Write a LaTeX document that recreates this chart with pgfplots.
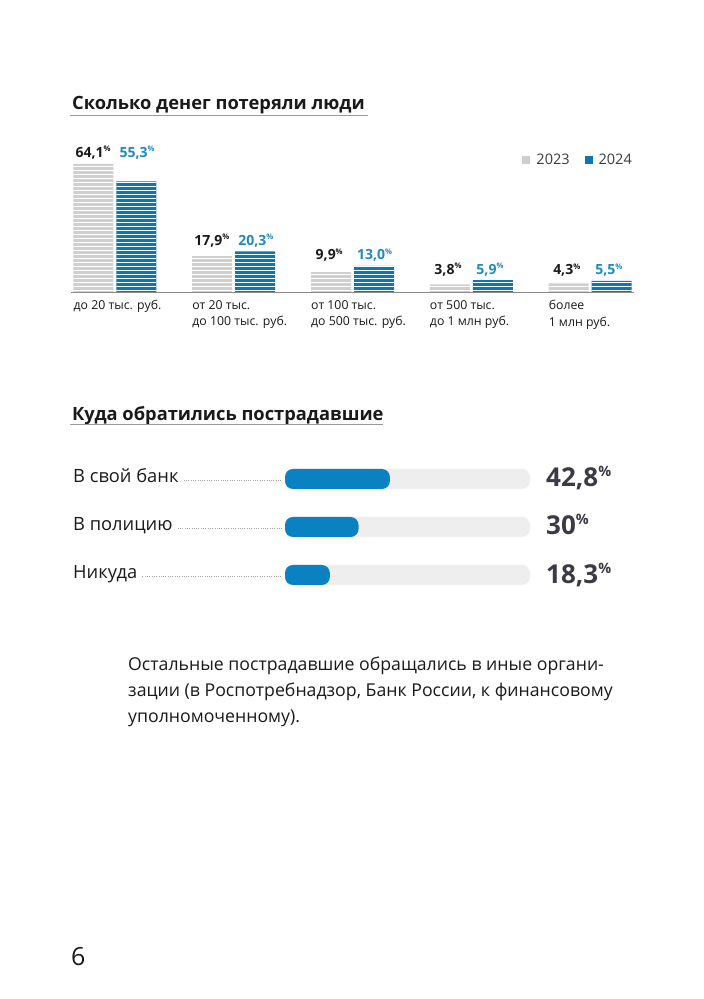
\documentclass[border=0pt]{standalone}
\usepackage{fontspec}
\setmainfont{Open Sans}
\usepackage{graphicx}
\usepackage{pgfplots}
\pgfplotsset{compat=1.18}
\usetikzlibrary{patterns}
\definecolor{barGray}{HTML}{CFCFCF}
\definecolor{barBlue}{HTML}{0C77B4}
\definecolor{labelBlue}{HTML}{1E8BC3}
\definecolor{progBlue}{HTML}{0A82C2}
\definecolor{trackGray}{HTML}{EEEEEE}
\definecolor{axisGray}{HTML}{8A8A8A}
\definecolor{lineGray}{HTML}{9A9A9A}
\definecolor{txt}{HTML}{1A1A1A}
\definecolor{valCol}{HTML}{3C3A44}
\pgfdeclarepatternformonly{hstripes}{\pgfqpoint{0pt}{0pt}}{\pgfqpoint{400pt}{4pt}}{\pgfqpoint{400pt}{4pt}}{\pgfpathrectangle{\pgfqpoint{0pt}{0pt}}{\pgfqpoint{400pt}{1.2pt}}\pgfusepath{fill}}
\newcommand\pct{\raisebox{0.42em}{\scalebox{0.55}{\%}}}
\begin{document}
\begin{tikzpicture}[lbl/.style={anchor=base west, inner sep=0pt, text=txt, font=\fontsize{14}{16}\selectfont\bfseries}]
\path[use as bounding box, fill=white] (0pt,0pt) rectangle (704pt,999pt);

% ---------- Title 1
\node[anchor=base west, inner sep=0pt, text=txt, font=\fontsize{18.3}{22}\selectfont\bfseries] at (72pt,889pt) {Сколько денег потеряли люди};
\draw[lineGray, line width=0.8pt] (70pt,883.5pt) -- (368pt,883.5pt);

\begin{axis}[
  at={(71pt,707pt)}, anchor=south west, scale only axis,
  width=563pt, height=140pt,
  xmin=-0.37, xmax=4.37, ymin=0, ymax=70,
  axis y line=none, axis x line*=bottom,
  x axis line style={-, draw=axisGray, line width=0.8pt},
  xtick={0,1,2,3,4}, major tick length=0pt,
  xticklabels={{до 20 тыс. руб.},{от 20 тыс.\\до 100 тыс. руб.},{от 100 тыс.\\до 500 тыс. руб.},{от 500 тыс.\\до 1 млн руб.},{более\\1 млн руб.}},
  xticklabel style={align=left, anchor=north west, xshift=-41.5pt, inner sep=0pt, yshift=-8pt, text=txt, font=\fontsize{12.3}{16.5}\selectfont},
  clip=false,
  legend columns=2,
  legend image code/.code={\fill[#1] (0pt,-4pt) rectangle (8pt,4pt);},
  legend style={draw=none, fill=none, at={(1,1)}, anchor=north east, inner sep=0pt,
    font=\fontsize{14.5}{16}\selectfont, text=txt!85,
    /tikz/every even column/.append style={column sep=13pt},
    /tikz/every odd column/.append style={column sep=4pt}},
]
\addlegendimage{fill=barGray, draw=none}
\addlegendentry{2023}
\addlegendimage{fill=barBlue, draw=none}
\addlegendentry{2024}

\addplot[forget plot, ybar, bar width=40pt, bar shift=-21.5pt, fill=barGray, draw=none,
  postaction={pattern=hstripes, pattern color=white}]
  coordinates {(0,64.1) (1,17.9) (2,9.9) (3,3.8) (4,4.3)};
\addplot[forget plot, ybar, bar width=40pt, bar shift=21.5pt, fill=barBlue, draw=none,
  postaction={pattern=hstripes, pattern color=white}]
  coordinates {(0,55.3) (1,20.3) (2,13.0) (3,5.9) (4,5.5)};

\node[lbl, xshift=-39.5pt, yshift=6pt] at (axis cs:0,64.1) {64,1\pct};
\node[lbl, text=labelBlue, xshift=4.5pt, yshift=6pt] at (axis cs:0,64.1) {55,3\pct};
\node[lbl, xshift=-39.5pt, yshift=6pt] at (axis cs:1,20.3) {17,9\pct};
\node[lbl, text=labelBlue, xshift=4.5pt, yshift=6pt] at (axis cs:1,20.3) {20,3\pct};
\node[lbl, xshift=-37pt, yshift=6pt] at (axis cs:2,13.0) {9,9\pct};
\node[lbl, text=labelBlue, xshift=4.5pt, yshift=6pt] at (axis cs:2,13.0) {13,0\pct};
\node[lbl, xshift=-37pt, yshift=6pt] at (axis cs:3,5.9) {3,8\pct};
\node[lbl, text=labelBlue, xshift=5pt, yshift=6pt] at (axis cs:3,5.9) {5,9\pct};
\node[lbl, xshift=-37pt, yshift=6pt] at (axis cs:4,5.5) {4,3\pct};
\node[lbl, text=labelBlue, xshift=5pt, yshift=6pt] at (axis cs:4,5.5) {5,5\pct};
\end{axis}

% ---------- Title 2
\node[anchor=base west, inner sep=0pt, text=txt, font=\fontsize{18.3}{22}\selectfont\bfseries] at (72pt,578pt) {Куда обратились пострадавшие};
\draw[lineGray, line width=0.8pt] (70pt,574.5pt) -- (383pt,574.5pt);

\begin{axis}[
  at={(285pt,400pt)}, anchor=south west, scale only axis,
  width=245pt, height=144pt,
  xmin=0, xmax=100, ymin=-0.5, ymax=2.5,
  hide axis, clip=false,
]
\addplot[xbar, bar width=20pt, bar shift=0pt, fill=trackGray, draw=none, rounded corners=8pt]
  coordinates {(100,2) (100,1) (100,0)};
\addplot[xbar, bar width=20pt, bar shift=0pt, fill=progBlue, draw=none, rounded corners=8pt]
  coordinates {(42.8,2) (30,1) (18.3,0)};
\end{axis}

\begin{scope}[font=\fontsize{18.3}{22}\selectfont]
\node[anchor=base west, inner sep=0pt, text=txt] (r1) at (73pt,516pt) {В свой банк};
\node[anchor=base west, inner sep=0pt, text=txt] (r2) at (73pt,468pt) {В полицию};
\node[anchor=base west, inner sep=0pt, text=txt] (r3) at (73pt,420pt) {Никуда};
\end{scope}
\foreach \n/\y in {r1/519, r2/471, r3/423}{
  \draw[gray!70, line width=0.6pt, dash pattern=on 0.7pt off 1.6pt] ([xshift=5pt]\n.base east |- 0,\y pt) -- (282pt,\y pt);
}
\begin{scope}[every node/.style={anchor=base west, inner sep=0pt, text=valCol, font=\fontsize{26}{30}\selectfont\bfseries}]
\node at (546pt,512pt) {42,8\pct};
\node at (546pt,464pt) {30\pct};
\node at (546pt,415pt) {18,3\pct};
\end{scope}

% ---------- Paragraph
\begin{scope}[every node/.style={anchor=base west, inner sep=0pt, text=txt, font=\fontsize{17.7}{26}\selectfont}]
\node at (128pt,328pt) {Остальные пострадавшие обращались в иные органи-};
\node at (128pt,302pt) {зации (в Роспотребнадзор, Банк России, к финансовому};
\node at (128pt,276pt) {уполномоченному).};
\end{scope}

\node[anchor=base west, inner sep=0pt, text=txt, font=\fontsize{25}{30}\selectfont] at (71pt,34pt) {6};
\end{tikzpicture}
\end{document}
